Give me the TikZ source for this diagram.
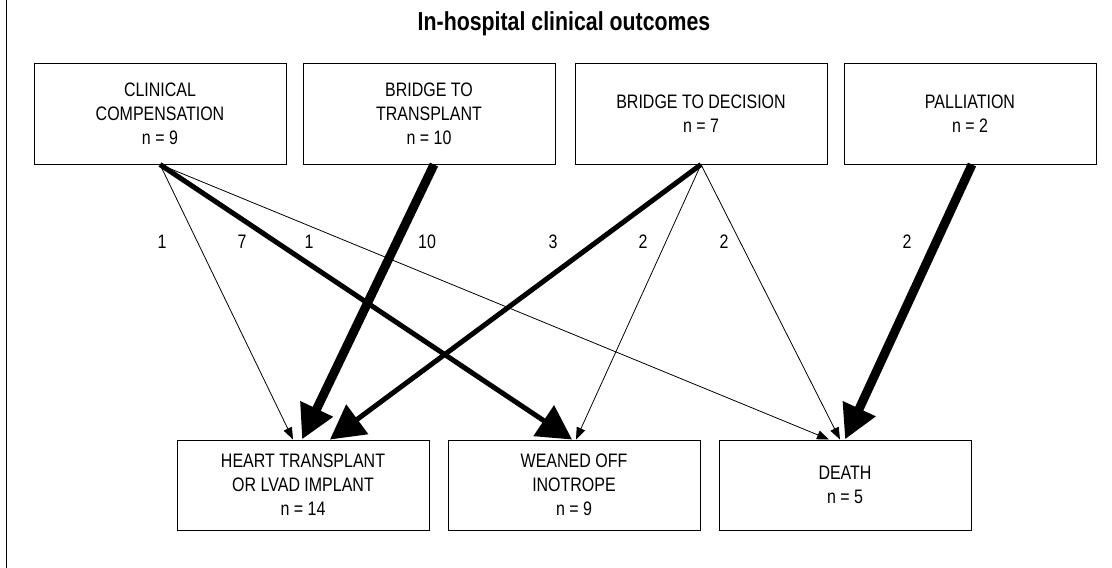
\documentclass[tikz,border=0pt]{standalone}
\usepackage{fontspec}
\setmainfont{Liberation Sans}[FakeStretch=0.82]
\usetikzlibrary{positioning}
\usetikzlibrary{arrows.meta}

\begin{document}
\begin{tikzpicture}[x=1pt,y=-1pt,
  node distance = 16pt,
  box/.style = {draw,line width=1pt,minimum width=252pt,align=center,
        font=\fontsize{19.5}{24}\selectfont},
  topbox/.style = {box,minimum height=101pt},
  endbox/.style = {box,minimum height=90pt},
  num/.style = {font=\fontsize{19.5}{24}\selectfont},
  thinarrow/.style = {line width=0.8pt,-{Triangle[length=12pt,width=9pt]}},
  midarrow/.style = {line width=5pt,-{Triangle[length=34pt,width=36pt]}},
  fatarrow/.style = {line width=9pt,-{Triangle[length=34pt,width=34pt]}}]
 \useasboundingbox (0,0) rectangle (1112,568);
 \draw[line width=1pt] (6,0) -- (6,568);
 \node[font=\bfseries\fontsize{26}{30}\selectfont] (title) at (564,24)
   {In-hospital clinical outcomes};
 % starting groups
 \node[topbox] (cc) at (160,113.5) {CLINICAL\\COMPENSATION\\n = 9};
 \node[topbox,right=16pt of cc] (bt) {BRIDGE TO\\TRANSPLANT\\n = 10};
 \node[topbox,right=19pt of bt] (bd) {BRIDGE TO DECISION\\n = 7};
 \node[topbox,right=16pt of bd] (pa) {PALLIATION\\n = 2};
 % outcomes
 \node[endbox] (ht) at (303,485) {HEART TRANSPLANT\\OR LVAD IMPLANT\\n = 14};
 \node[endbox,right=18pt of ht] (wo) {WEANED OFF\\INOTROPE\\n = 9};
 \node[endbox,right=18pt of wo] (de) {DEATH\\n = 5};
 % counts
 \node[num] (c1) at (162,242) {1};
 \node[num] (c2) at (242,242) {7};
 \node[num] (c3) at (309,242) {1};
 \node[num] (c4) at (427,242) {10};
 \node[num] (c5) at (553,242) {3};
 \node[num] (c6) at (643,242) {2};
 \node[num] (c7) at (724,242) {2};
 \node[num] (c8) at (907,242) {2};
 \begin{scope}
  \path
  (cc.south) edge[thinarrow] ([xshift=-10pt]ht.north)
  (cc.south) edge[midarrow] ([xshift=-2pt]wo.north)
  (cc.south) edge[thinarrow] ([xshift=-16pt]de.north)
  ([xshift=5pt]bt.south) edge[fatarrow] ([xshift=-1pt]ht.north)
  (bd.south) edge[midarrow] ([xshift=27pt]ht.north)
  (bd.south) edge[thinarrow] ([xshift=2pt]wo.north)
  (bd.south) edge[thinarrow] ([xshift=-5pt]de.north)
  ([xshift=2pt]pa.south) edge[fatarrow] (de.north);
 \end{scope}
\end{tikzpicture}
\end{document}
